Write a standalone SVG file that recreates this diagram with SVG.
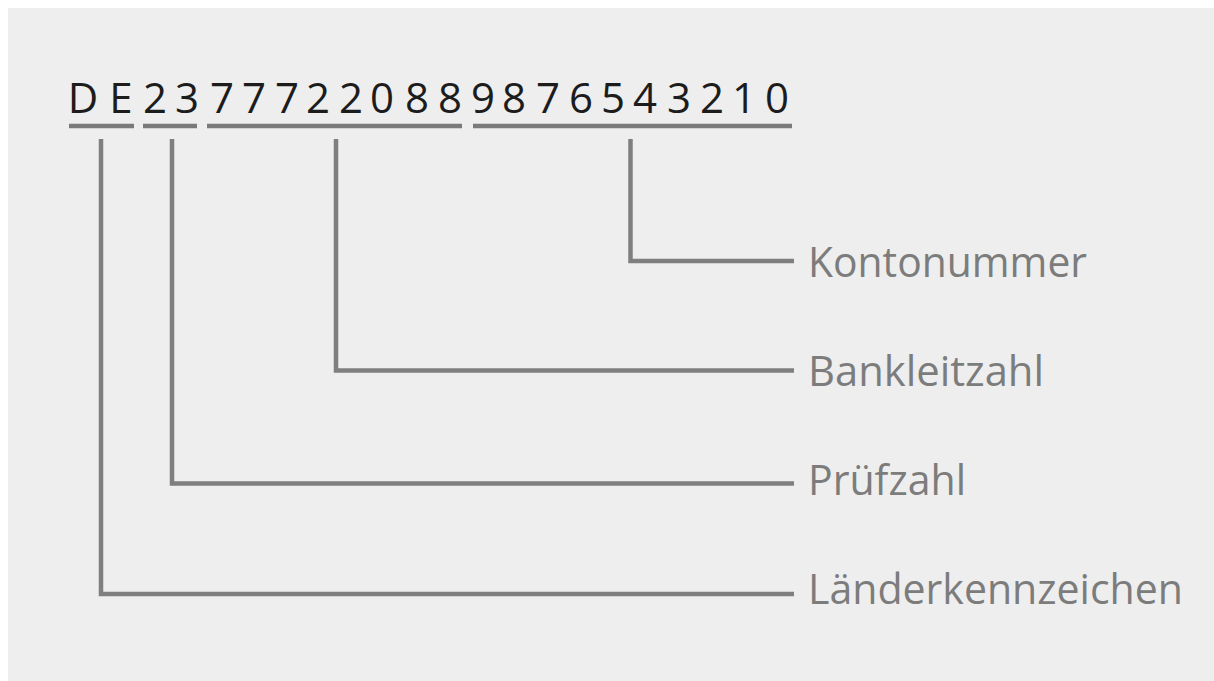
<svg xmlns="http://www.w3.org/2000/svg" width="1214" height="681" viewBox="0 0 1214 681">
<style>
.iban{font-family:"Open Sans","Noto Sans","Liberation Sans",sans-serif;font-size:42px;fill:#1c1c1c;}
.lbl{font-family:"Open Sans","Noto Sans","Liberation Sans",sans-serif;font-size:42px;fill:#7c7c7c;}
.ul{stroke:#7a7a7a;stroke-width:4.5;fill:none;stroke-linecap:butt;}
.con{stroke:#7f7f7f;stroke-width:4.5;fill:none;stroke-linejoin:miter;}
</style>
<rect x="0" y="0" width="1214" height="681" fill="#ffffff"/>
<rect x="8" y="8" width="1206" height="673" fill="#eeeeee"/>
<g id="iban">
<text class="iban" y="113" text-anchor="middle" x="83 121 155 187 222 254 287 318 351 382 417 450 483 514 548 581 613 645 679 712 744 777">DE23777220889876543210</text>
<line class="ul" x1="69" y1="126" x2="134" y2="126"/>
<line class="ul" x1="143" y1="126" x2="197" y2="126"/>
<line class="ul" x1="207" y1="126" x2="462" y2="126"/>
<line class="ul" x1="473" y1="126" x2="792" y2="126"/>
</g>
<g id="connectors">
<polyline class="con" points="630.5,139 630.5,261 794,261"/>
<polyline class="con" points="336,139 336,370.5 794,370.5"/>
<polyline class="con" points="172,139 172,483.5 794,483.5"/>
<polyline class="con" points="101,139 101,594 794,594"/>
</g>
<g id="kontonummer"><text class="lbl" x="808" y="276.5" textLength="279" lengthAdjust="spacingAndGlyphs">Kontonummer</text></g>
<g id="bankleitzahl"><text class="lbl" x="808" y="385.5" textLength="236" lengthAdjust="spacingAndGlyphs">Bankleitzahl</text></g>
<g id="pruefzahl"><text class="lbl" x="808" y="494.5" textLength="158" lengthAdjust="spacingAndGlyphs">Prüfzahl</text></g>
<g id="laenderkennzeichen"><text class="lbl" x="808" y="604" textLength="375" lengthAdjust="spacingAndGlyphs">Länderkennzeichen</text></g>
</svg>
